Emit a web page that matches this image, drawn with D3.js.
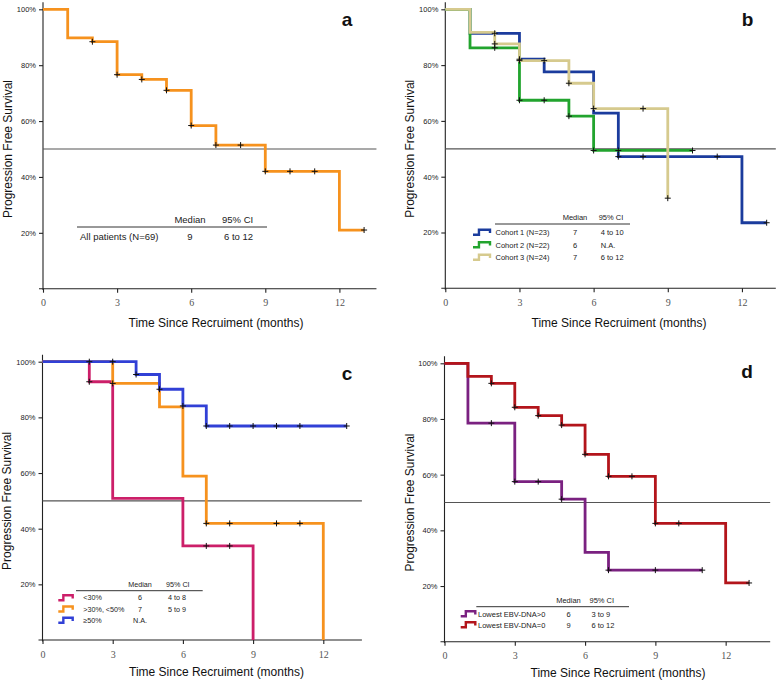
<!DOCTYPE html>
<html>
<head>
<meta charset="utf-8">
<script src="https://cdn.jsdelivr.net/npm/d3@7"></script>
<style>
  html, body { margin: 0; padding: 0; background: #fff; }
  svg { display: block; font-family: Arial, "Liberation Sans", sans-serif; }
  .tick-y text { font-size: 7.5px; fill: #222; }
  .tick-x text { font-family: "Liberation Serif", "Times New Roman", serif; font-size: 10px; fill: #555; }
</style>
</head>
<body>
<svg id="chart" width="778" height="681"></svg>
<script>
const xTicks = [0, 3, 6, 9, 12];
const yTicks = [20, 40, 60, 80, 100];
const xTitle = "Time Since Recruiment (months)";
const yTitle = "Progression Free Survival";
const legendHeader = ["Median", "95% CI"];

// a - all patients
const allTimes = [0, 1, 2, 3, 4, 5, 6, 7, 9, 12, 13];
const allSurv = [100, 89.8, 88.4, 76.6, 74.9, 71, 58.4, 51.4, 42, 21, 21];
const allCensor = [2, 3, 4, 5, 6, 7, 8, 9, 10, 11, 13];
const allLabels = ["All patients (N=69)"];
const allMedians = ["9"];
const allCIs = ["6 to 12"];

// b - cohorts
const cohort1Times = [0, 1, 3, 4, 6, 7, 12, 13];
const cohort1Surv = [100, 91.4, 82.1, 77.6, 62.8, 47.2, 23.5, 23.5];
const cohort1Censor = [2, 3, 7, 8, 11, 13];
const cohort2Times = [0, 1, 3, 5, 6, 10];
const cohort2Surv = [100, 86.2, 67.4, 61.7, 49.4, 49.4];
const cohort2Censor = [2, 3, 4, 5, 6, 7, 10];
const cohort3Times = [0, 1, 2, 3, 5, 6, 9];
const cohort3Surv = [100, 91.7, 87.6, 81.6, 73.5, 64.4, 32.3];
const cohort3Censor = [2, 3, 4, 5, 6, 8, 9];
const cohortLabels = ["Cohort 1 (N=23)", "Cohort 2 (N=22)", "Cohort 3 (N=24)"];
const cohortMedians = ["7", "6", "7"];
const cohortCIs = ["4 to 10", "N.A.", "6 to 12"];

// c - response groups
const lowTimes = [0, 2, 3, 6, 9];
const lowSurv = [100, 92.8, 50.9, 33.8, 0];
const lowCensor = [2, 7, 8];
const midTimes = [0, 3, 5, 6, 7, 12];
const midSurv = [100, 92.2, 83.8, 58.9, 41.9, 0];
const midCensor = [3, 7, 8, 10, 11];
const highTimes = [0, 4, 5, 6, 7, 13];
const highSurv = [100, 95.4, 90.1, 84.1, 76.9, 76.9];
const highCensor = [2, 3, 4, 5, 6, 7, 8, 9, 10, 11, 13];
const groupLabels = ["<30%", ">30%, <50%", "\u226550%"];
const groupMedians = ["6", "7", "N.A."];
const groupCIs = ["4 to 8", "5 to 9", ""];

// d - lowest EBV-DNA
const ebvPosTimes = [0, 1, 3, 5, 6, 7, 11];
const ebvPosSurv = [100, 78.5, 57.5, 51.2, 32.1, 25.7, 25.7];
const ebvPosCensor = [2, 3, 4, 5, 7, 9, 11];
const ebvZeroTimes = [0, 1, 2, 3, 4, 5, 6, 7, 9, 12, 13];
const ebvZeroSurv = [100, 95.3, 92.8, 84.2, 81.2, 77.8, 67.3, 59.4, 42.5, 21.1, 21.1];
const ebvZeroCensor = [2, 3, 4, 5, 6, 7, 8, 9, 10, 13];
const ebvLabels = ["Lowest EBV-DNA>0", "Lowest EBV-DNA=0"];
const ebvMedians = ["6", "9"];
const ebvCIs = ["3 to 9", "6 to 12"];

const series = (times, surv, censor, color) => ({ times, surv, censor, color });

const panels = [
  {
    letter: "a", x0: 43, perMonth: 24.7, tEnd: 13.5, yTop: 9.3, yBot: 288.7,
    letterX: 347, letterY: 26, yTitleX: 12, xTitleX: 216, xTitleY: 327,
    curves: [series(allTimes, allSurv, allCensor, "#f6921e")],
    legend: { labels: allLabels, medians: allMedians, cis: allCIs, icons: false,
      lineX1: 77, lineX2: 267, lineY: 227, headY: 222.5, medX: 190, ciX: 222,
      rowY0: 239.5, rowDy: 12, labelX: 80, fontSize: 9.5, ciCenter: true }
  },
  {
    letter: "b", x0: 445.3, perMonth: 24.72, tEnd: 13.37, yTop: 9.3, yBot: 288.3,
    letterX: 747.5, letterY: 26, yTitleX: 413.5, xTitleX: 619, xTitleY: 327,
    curves: [
      series(cohort1Times, cohort1Surv, cohort1Censor, "#1b3c9d"),
      series(cohort2Times, cohort2Surv, cohort2Censor, "#22a42e"),
      series(cohort3Times, cohort3Surv, cohort3Censor, "#d6ca8e")
    ],
    legend: { labels: cohortLabels, medians: cohortMedians, cis: cohortCIs, icons: true,
      lineX1: 495, lineX2: 630, lineY: 224, headY: 220, medX: 575, ciX: 598.7,
      rowY0: 235, rowDy: 12.5, labelX: 495.5, iconX: 473, iconW: 17, fontSize: 7.5 }
  },
  {
    letter: "c", x0: 42.5, perMonth: 23.4, tEnd: 13.65, yTop: 361.7, yBot: 640,
    letterX: 347, letterY: 380, yTitleX: 10.5, xTitleX: 216.5, xTitleY: 675.5,
    curves: [
      series(lowTimes, lowSurv, lowCensor, "#cc1f69"),
      series(midTimes, midSurv, midCensor, "#f6921e"),
      series(highTimes, highSurv, highCensor, "#3140d6")
    ],
    legend: { labels: groupLabels, medians: groupMedians, cis: groupCIs, icons: true,
      lineX1: 76, lineX2: 202.7, lineY: 590.7, headY: 586.7, medX: 140, ciX: 166,
      rowY0: 600.3, rowDy: 11.3, labelX: 83.3, iconX: 58.3, iconW: 14.4, fontSize: 7.2 }
  },
  {
    letter: "d", x0: 444.5, perMonth: 23.43, tEnd: 13.9, yTop: 363.3, yBot: 641.7,
    letterX: 747, letterY: 378, yTitleX: 413.5, xTitleX: 618, xTitleY: 677,
    curves: [
      series(ebvPosTimes, ebvPosSurv, ebvPosCensor, "#7a2180"),
      series(ebvZeroTimes, ebvZeroSurv, ebvZeroCensor, "#b3151b")
    ],
    legend: { labels: ebvLabels, medians: ebvMedians, cis: ebvCIs, icons: true,
      lineX1: 476.3, lineX2: 629, lineY: 606.7, headY: 602.5, medX: 568.5, ciX: 589.5,
      rowY0: 616.5, rowDy: 11, labelX: 478, iconX: 460.7, iconW: 14.6, fontSize: 7.5 }
  }
];

const chart = d3.select("#chart");

// survival value at time t (step function)
function survAt(s, t) {
  let v = s.surv[0];
  s.times.forEach((ti, i) => { if (ti <= t) v = s.surv[i]; });
  return v;
}

panels.forEach((p) => {
  const g = chart.append("g").attr("class", "panel-" + p.letter);

  const xScale = d3.scaleLinear()
    .domain([0, p.tEnd])
    .range([p.x0, p.x0 + p.tEnd * p.perMonth]);
  const yScale = d3.scaleLinear()
    .domain([0, 100])
    .range([p.yBot, p.yTop]);

  // x axis
  const xAxis = g.append("g")
    .attr("class", "tick-x")
    .attr("transform", `translate(0, ${p.yBot})`)
    .call(d3.axisBottom(xScale).tickValues(xTicks).tickSize(4).tickSizeOuter(0).tickPadding(6.5));
  xAxis.select(".domain").attr("d", `M${p.x0 - 4},0H${xScale(p.tEnd)}`);
  xAxis.selectAll("line, path").attr("stroke", "#222").attr("stroke-width", 1.1);

  // y axis
  const yAxis = g.append("g")
    .attr("class", "tick-y")
    .attr("transform", `translate(${p.x0}, 0)`)
    .call(d3.axisLeft(yScale).tickValues(yTicks).tickFormat((d) => d + "%").tickSize(4).tickPadding(3));
  yAxis.select(".domain").attr("d", `M0,${yScale(-0.5)}V${yScale(102.5)}`);
  yAxis.selectAll("line, path").attr("stroke", "#222").attr("stroke-width", 1.1);

  // 50% reference line
  g.append("line")
    .attr("x1", p.x0).attr("x2", xScale(p.tEnd))
    .attr("y1", yScale(50)).attr("y2", yScale(50))
    .attr("stroke", "#555").attr("stroke-width", 1.2);

  // curves
  p.curves.forEach((s) => {
    let d = `M${xScale(s.times[0])},${yScale(s.surv[0])}`;
    for (let i = 1; i < s.times.length; i++) {
      d += `H${xScale(s.times[i])}V${yScale(s.surv[i])}`;
    }
    g.append("path")
      .attr("d", d)
      .attr("fill", "none")
      .attr("stroke", s.color)
      .attr("stroke-width", 2.8)
      .attr("stroke-linejoin", "miter");
  });

  // censor marks
  p.curves.forEach((s) => {
    g.selectAll(null)
      .data(s.censor)
      .enter()
      .append("path")
      .attr("d", (t) => {
        const cx = xScale(t), cy = yScale(survAt(s, t));
        return `M${cx - 3},${cy}H${cx + 3}M${cx},${cy - 3}V${cy + 3}`;
      })
      .attr("stroke", "#111")
      .attr("stroke-width", 1);
  });

  // axis titles
  g.append("text")
    .attr("x", p.xTitleX).attr("y", p.xTitleY)
    .attr("text-anchor", "middle")
    .attr("font-size", 12).attr("fill", "#111")
    .text(xTitle);
  g.append("text")
    .attr("transform", `translate(${p.yTitleX}, ${(p.yTop + p.yBot) / 2}) rotate(-90)`)
    .attr("text-anchor", "middle")
    .attr("font-size", 12).attr("fill", "#111")
    .text(yTitle);

  // panel letter
  g.append("text")
    .attr("x", p.letterX).attr("y", p.letterY)
    .attr("text-anchor", "middle")
    .attr("font-size", 19).attr("font-weight", "bold").attr("fill", "#111")
    .text(p.letter);

  // legend table
  const L = p.legend;
  const lg = g.append("g").attr("font-size", L.fontSize).attr("fill", "#222");
  lg.append("line")
    .attr("x1", L.lineX1).attr("x2", L.lineX2)
    .attr("y1", L.lineY).attr("y2", L.lineY)
    .attr("stroke", "#333").attr("stroke-width", 1);
  lg.append("text").attr("x", L.medX).attr("y", L.headY)
    .attr("text-anchor", "middle").text(legendHeader[0]);
  lg.append("text").attr("x", L.ciX).attr("y", L.headY)
    .text(legendHeader[1]);

  L.labels.forEach((label, i) => {
    const ry = L.rowY0 + i * L.rowDy;
    lg.append("text").attr("x", L.labelX).attr("y", ry).text(label);
    lg.append("text").attr("x", L.medX).attr("y", ry)
      .attr("text-anchor", "middle").text(L.medians[i]);
    lg.append("text").attr("x", L.ciX + 2).attr("y", ry).text(L.cis[i]);
    if (L.icons) {
      const cy = ry - L.fontSize * 0.36;
      const w = L.iconW, h = 5;
      lg.append("path")
        .attr("d", `M${L.iconX},${cy + h / 2}H${L.iconX + w * 0.35}V${cy - h / 2}H${L.iconX + w}V${cy + h * 0.15}`)
        .attr("fill", "none")
        .attr("stroke", p.curves[i].color)
        .attr("stroke-width", 2.4);
    }
  });
});
</script>
</body>
</html>
